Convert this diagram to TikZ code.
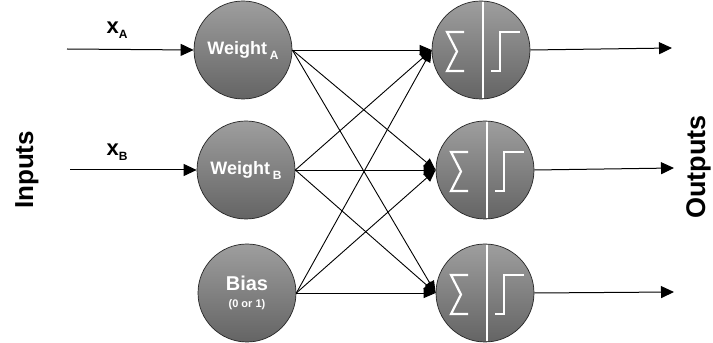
\documentclass[tikz,border=0pt]{standalone}
\usepackage{fontspec}
\setmainfont{Liberation Sans}
\usepackage{tikz}
\usetikzlibrary{arrows.meta,calc}

\definecolor{unittop}{RGB}{158,158,158}
\definecolor{unitbot}{RGB}{100,100,100}

\begin{document}
\begin{tikzpicture}[x=1pt,y=1pt,>={Triangle[length=12pt,width=10pt]}, font=\bfseries,
		unit/.style={circle, draw=black!85, line width=0.7pt, top color=unittop, bottom color=unitbot, minimum size=98pt, inner sep=0pt, text=white},
		link/.style={->, line width=0.9pt},
		bigtip/.style={-{Triangle[length=13pt,width=12pt]}, line width=1pt}]
			\useasboundingbox (0,0) rectangle (713,343);
			\newcommand{\Sub}[1]{\raisebox{-5pt}{\fontsize{12}{13}\selectfont #1}}

			% input layer
			\node (WA) [unit] at (243,293) {\fontsize{18}{21}\selectfont Weight\,\Sub{A}};
			\node (WB) [unit] at (246,173) {\fontsize{18}{21}\selectfont Weight\,\Sub{B}};
			\node (B) [unit, align=center] at (247,50) {\fontsize{20}{23}\selectfont Bias\\[5pt]\fontsize{11}{12}\selectfont (0 or 1)};

			% summing units
			\node (N1) [unit] at (481,293) {};
			\node (N2) [unit] at (485,173) {};
			\node (N3) [unit] at (485,50) {};

			\foreach \n in {N1,N2,N3} {
				\draw[white, line width=2.2pt] ($(\n.center)+(2,48)$) -- ($(\n.center)+(2,-48)$);
				\draw[white, line width=2.2pt, line join=miter, shift={(\n.center)}] (-17,18) -- (-34,18) -- (-24,-1.5) -- (-34,-21) -- (-17,-21);
				\draw[white, line width=2.2pt, line join=miter, shift={(\n.center)}] (10,-21) -- (19,-21) -- (19,18) -- (39,18);
			}

			% inputs
			\coordinate (XA) at (67,294);
			\coordinate (XB) at (70,173);
			\draw[bigtip] (XA) -- (WA.west);
			\draw[bigtip] (XB) -- (WB.west);
			\node at (117,313) {\fontsize{22}{25}\selectfont x\Sub{A}};
			\node at (117,191) {\fontsize{22}{25}\selectfont x\Sub{B}};

			% all to all
			\foreach \a in {WA,WB,B}
				\foreach \b in {N1,N2,N3}
					\draw[link] (\a.east) -- (\b.west);

			% outputs
			\coordinate (YA) at (672,295);
			\coordinate (YB) at (674,175);
			\coordinate (YC) at (674,51);
			\draw[bigtip] (N1.east) -- (YA);
			\draw[bigtip] (N2.east) -- (YB);
			\draw[bigtip] (N3.east) -- (YC);

			\node[rotate=90, font=\bfseries\fontsize{26}{30}\selectfont] (IN) at (27,173) {Inputs};
			\node[rotate=90, font=\bfseries\fontsize{27}{31}\selectfont] (OUT) at (699,176) {Outputs};
		\end{tikzpicture}
\end{document}
